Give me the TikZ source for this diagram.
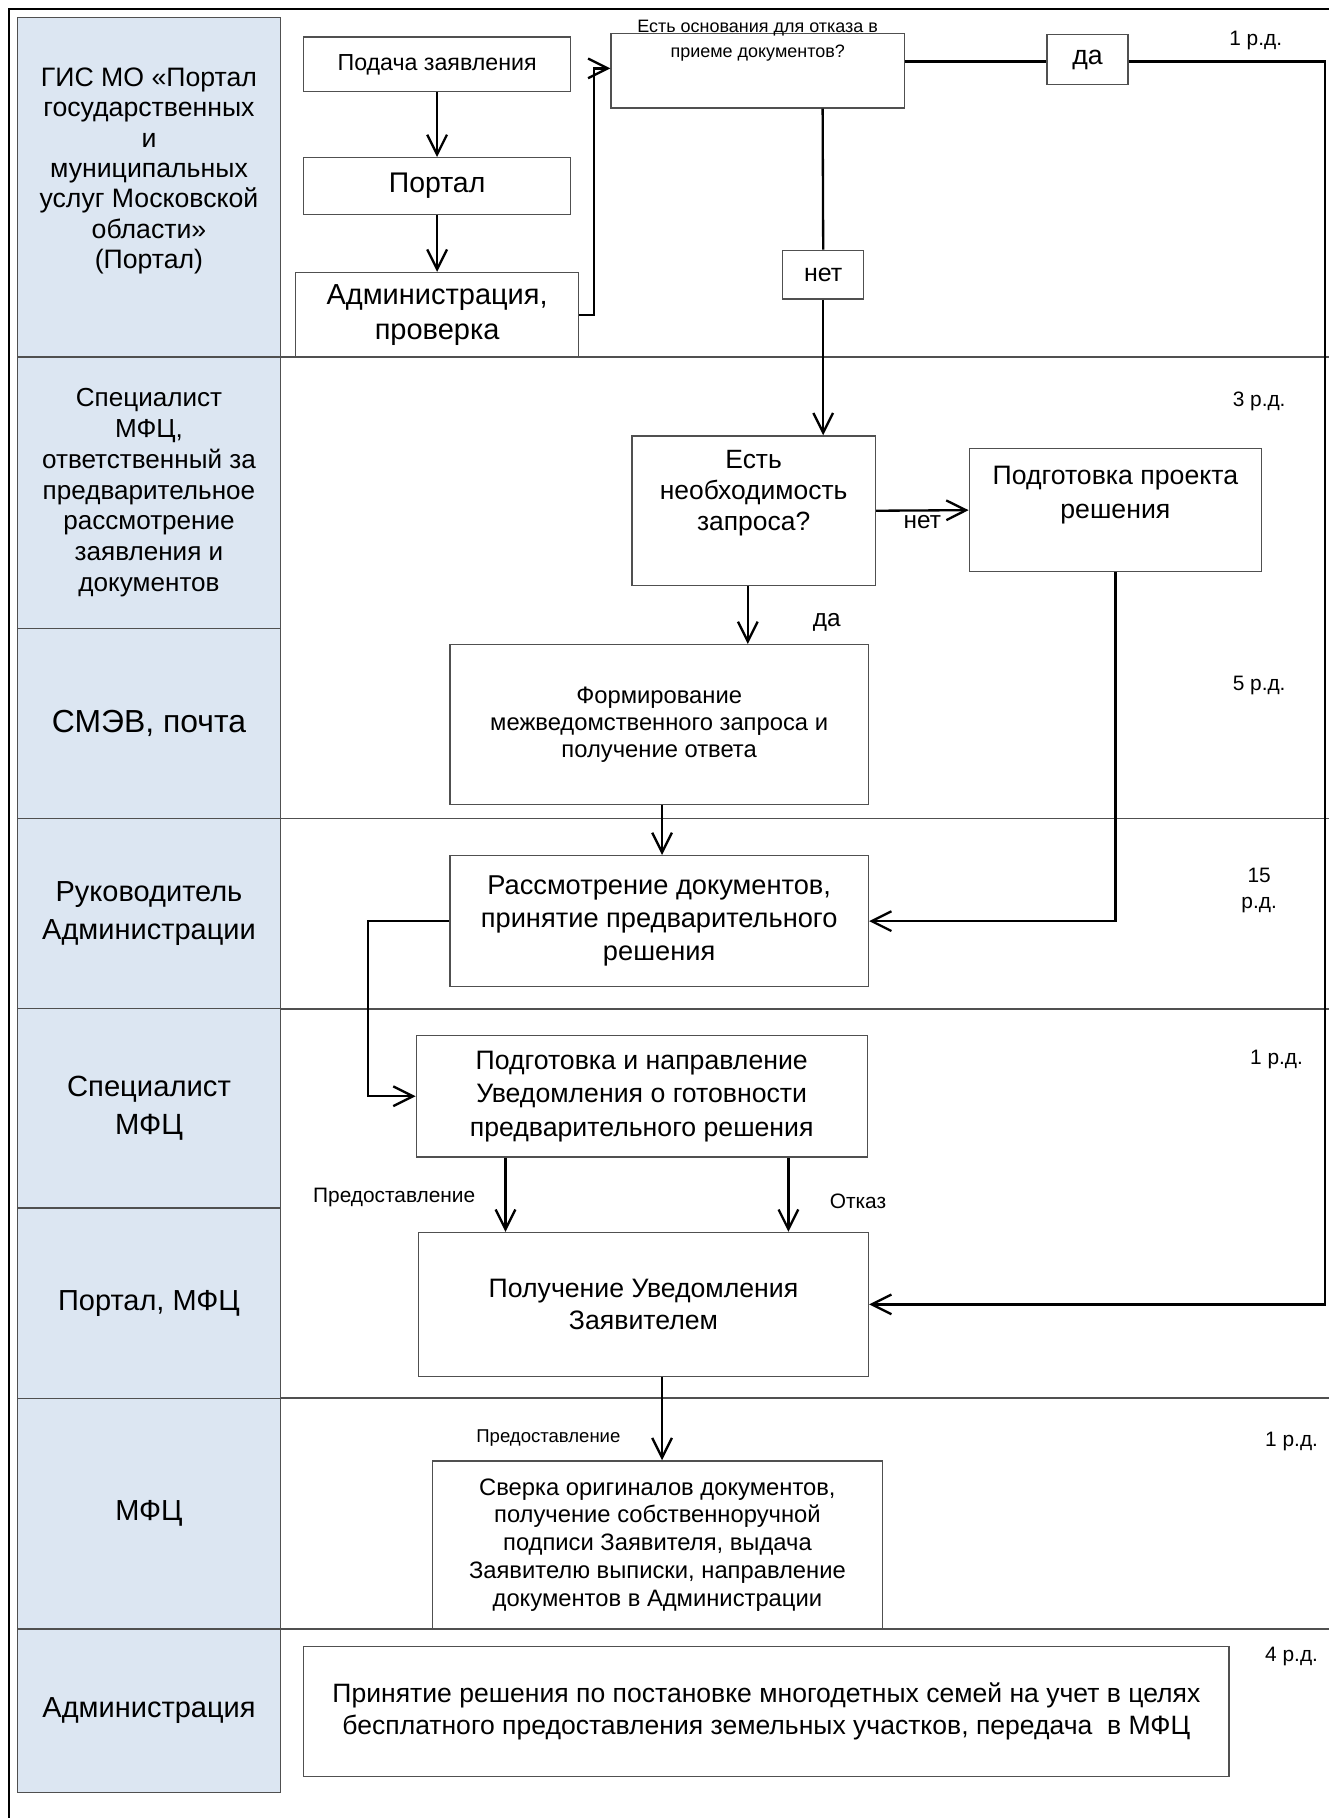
\documentclass[tikz,border=0pt]{standalone}
\usepackage{fontspec}
\setmainfont{Liberation Sans}
\usetikzlibrary{arrows.meta,positioning}
\definecolor{lanefill}{RGB}{220,230,242}
\definecolor{edgegray}{RGB}{80,80,80}
\newcommand{\fsz}[2]{\fontsize{#1}{#2}\selectfont}

\begin{document}
\begin{tikzpicture}[x=1pt, y=-1pt, >={Straight Barb[length=17pt,width=17pt]},
    box/.style={draw=edgegray, line width=1.2pt, inner sep=0pt, align=center},
    lane/.style={draw=edgegray, fill=lanefill, line width=1.2pt, inner sep=0pt, align=center},
    txt/.style={inner sep=0pt, align=center},
    flow/.style={line width=2pt},
    days/.style={font=\fsz{18}{23}, align=center, inner sep=0pt}]
    \useasboundingbox (0,0) rectangle (1146,1568);
    \draw[line width=1.5pt] (8,1568) -- (8,8) -- (1146,8);
    % lanes
    \node[lane, minimum width=227pt, minimum height=293pt] (h1) at (128.5,161.5) {};
    \node[txt, font=\fsz{23}{26.2}, yshift=14pt] (h1t) at (h1) {ГИС МО «Портал\\государственных\\и\\муниципальных\\услуг Московской\\области»\\(Портал)};
    \node[lane, minimum width=227pt, minimum height=234pt, font=\fsz{22.5}{26.5}] (h2) at (128.5,425) {Специалист\\МФЦ,\\ответственный за\\предварительное\\рассмотрение\\заявления и\\документов};
    \node[lane, minimum width=227pt, minimum height=164pt, font=\fsz{27.5}{32}] (h3) at (128.5,624) {СМЭВ, почта};
    \node[lane, minimum width=227pt, minimum height=164pt, font=\fsz{25}{33}] (h4) at (128.5,788) {Руководитель\\Администрации};
    \node[lane, minimum width=227pt, minimum height=172pt, font=\fsz{25.2}{33}] (h5) at (128.5,956) {Специалист\\МФЦ};
    \node[lane, minimum width=227pt, minimum height=164pt, font=\fsz{25}{33}] (h6) at (128.5,1124) {Портал, МФЦ};
    \node[lane, minimum width=227pt, minimum height=199pt, font=\fsz{25}{33}] (h7) at (128.5,1305.5) {МФЦ};
    \node[lane, minimum width=227pt, minimum height=141pt, font=\fsz{25}{33}] (h8) at (128.5,1475.5) {Администрация};
    \foreach \y in {308,706,870,1206,1405}
        \draw[line width=1.4pt, edgegray] (242,\y) -- (1146,\y);
    % boxes
    \node[box, minimum width=230pt, minimum height=47pt, font=\fsz{20}{24}] (1) at (377,55.5) {Подача заявления};
    \node[box, minimum width=230pt, minimum height=49pt, font=\fsz{24.5}{30}] (2) at (377,160.5) {Портал};
    \node[box, minimum width=244pt, minimum height=73pt, font=\fsz{25}{30}] (3) at (377,271.5) {Администрация,\\проверка};
    \node[box, minimum width=253pt, minimum height=64pt] (4) at (653.5,61) {};
    \node[txt, font=\fsz{15.5}{21.5}, anchor=north, yshift=11pt] (4t) at (4.north) {Есть основания для отказа в\\приеме документов?};
    \node[box, minimum width=70pt, minimum height=43pt, font=\fsz{23}{26}] (5) at (938,51.5) {да};
    \node[box, minimum width=70pt, minimum height=42pt, font=\fsz{21.5}{24}] (6) at (710,237) {нет};
    \node[box, minimum width=210pt, minimum height=129pt] (7) at (650,440.5) {};
    \node[txt, font=\fsz{22.8}{26.5}, yshift=15pt] (7t) at (7) {Есть\\необходимость\\запроса?};
    \node[box, minimum width=252pt, minimum height=106pt] (8) at (962,440) {};
    \node[txt, font=\fsz{23}{30}, yshift=13pt] (8t) at (8) {Подготовка проекта\\решения};
    \node[box, minimum width=361pt, minimum height=138pt, font=\fsz{20.5}{23.5}] (9) at (568.5,625) {Формирование\\межведомственного запроса и\\получение ответа};
    \node[box, minimum width=361pt, minimum height=113pt, font=\fsz{23.5}{28.5}] (10) at (568.5,794.5) {Рассмотрение документов,\\принятие предварительного\\решения};
    \node[box, minimum width=389pt, minimum height=105pt, font=\fsz{23}{29}] (11) at (553.5,945.5) {Подготовка и направление\\Уведомления о готовности\\предварительного решения};
    \node[box, minimum width=388pt, minimum height=124pt, font=\fsz{23}{27}] (12) at (555,1125) {Получение Уведомления\\Заявителем};
    \node[box, minimum width=388pt, minimum height=145pt, font=\fsz{20.5}{24}] (13) at (567,1332.5) {Сверка оригиналов документов,\\получение собственноручной\\подписи Заявителя, выдача\\Заявителю выписки, направление\\документов в Администрации};
    \node[box, minimum width=798pt, minimum height=112pt, font=\fsz{22.9}{28}] (14) at (661,1476) {Принятие решения по постановке многодетных семей на учет в целях\\бесплатного предоставления земельных участков, передача\ \ в МФЦ};
    % connectors
    \path[flow, ->]
        (1) edge (2)
        (2) edge (3);
    \draw[flow, ->] (3.east) -- ++(13,0) |- ([yshift=2pt]4.west);
    \coordinate (r) at (1143,53);
    \draw[flow] (4.east |- r) -- (5.west |- r);
    \draw[flow, ->] (5.east |- r) -- (r) |- (12.east);
    \draw[flow] ([xshift=56pt]4.south) -- (6.north);
    \draw[flow, ->] (6.south) -- ([xshift=60pt]7.north);
    \draw[flow, ->] (7.east) -- (8.west) node[midway, below, inner sep=3pt, font=\fsz{21}{24}] (n1) {нет};
    \draw[flow, ->] ([xshift=-5pt]7.south) -- ([xshift=76.5pt]9.north);
    \node[txt, font=\fsz{21}{24}] (d1) at (713,537) {да};
    \draw[flow, ->] (8.south) |- (10.east);
    \draw[flow, ->] ([xshift=2.5pt]9.south) -- ([xshift=2.5pt]10.north);
    \draw[flow, ->] (10.west) -- ++(-70,0) |- (11.west);
    \draw[flow, ->] ([xshift=-117.5pt]11.south) -- ([xshift=-119pt]12.north);
    \draw[flow, ->] ([xshift=126.5pt]11.south) -- ([xshift=125pt]12.north);
    \draw[flow, ->] ([xshift=16pt]12.south) -- ([xshift=4pt]13.north);
    \node[txt, font=\fsz{18}{22}] (p1) at (340,1033) {Предоставление};
    \node[txt, font=\fsz{18}{22}] (p2) at (740,1036) {Отказ};
    \node[txt, font=\fsz{16}{20}] (p3) at (473,1240) {Предоставление};
    % days
    \node[days] (t1) at (1083,35) {1 р.д.};
    \node[days] (t2) at (1086,346) {3 р.д.};
    \node[days] (t3) at (1086,591) {5 р.д.};
    \node[days] (t4) at (1086,768) {15\\р.д.};
    \node[days] (t5) at (1101,914) {1 р.д.};
    \node[days] (t6) at (1114,1243) {1 р.д.};
    \node[days] (t7) at (1114,1429) {4 р.д.};
\end{tikzpicture}
\end{document}
